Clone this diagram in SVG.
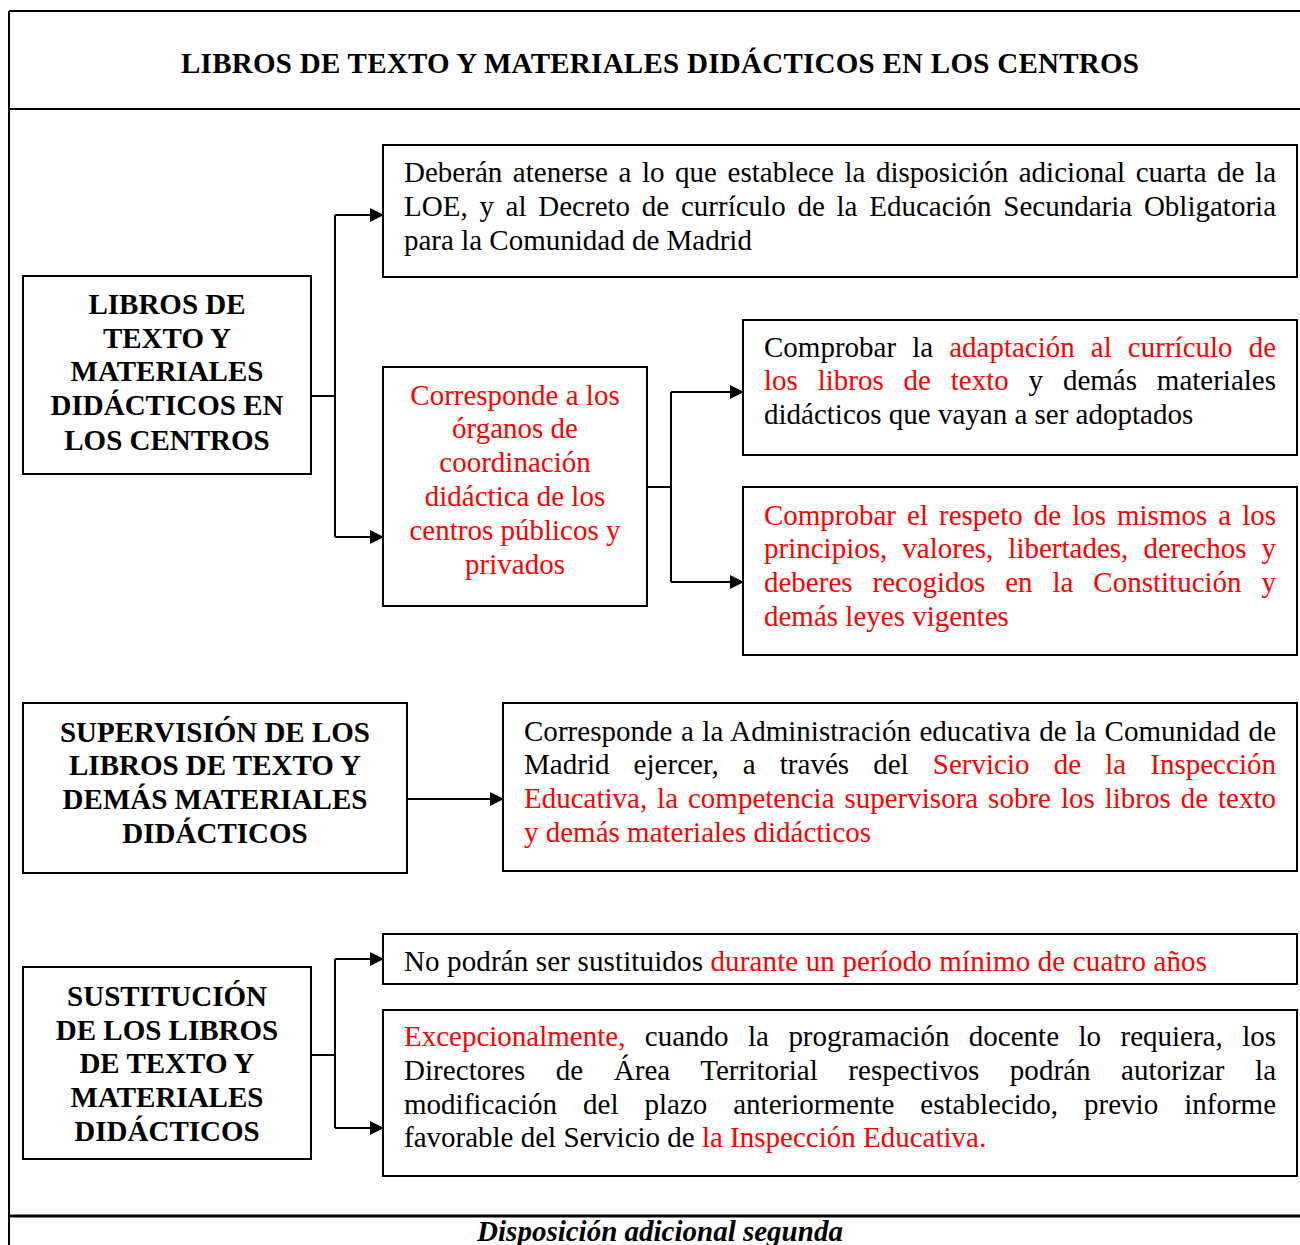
<svg xmlns="http://www.w3.org/2000/svg" width="1300" height="1245" viewBox="0 0 1300 1245">
<style>
.box{fill:#fff;stroke:#000;stroke-width:2}
.frame{fill:none;stroke:#000;stroke-width:2}
.t{font-family:"Liberation Serif","Times New Roman",serif;font-size:29px;fill:#000}
.b{font-family:"Liberation Serif","Times New Roman",serif;font-size:29px;font-weight:bold;fill:#000;text-anchor:middle}
.r{fill:#ff0000}
.c{text-anchor:middle}
.conn{fill:none;stroke:#000;stroke-width:2}
</style>
<defs>
<marker id="arr" markerWidth="14" markerHeight="14" refX="13" refY="7" orient="auto" markerUnits="userSpaceOnUse">
<path d="M0,0 L14,7 L0,14 Z" fill="#000"/>
</marker>
</defs>
<rect width="1300" height="1245" fill="#fff"/>
<g id="frame">
<path class="frame" d="M9,11 H1302 M9,11 V1245 M9,109 H1302"/>
<path d="M9,1216 H1302" stroke="#000" stroke-width="3"/>
<text class="b" x="660" y="73" textLength="958" lengthAdjust="spacing">LIBROS DE TEXTO Y MATERIALES DIDÁCTICOS EN LOS CENTROS</text>
<text class="b" x="660" y="1241" font-style="italic">Disposición adicional segunda</text>
</g>
<g id="connectors">
<path class="conn" d="M311,396 H335 M335,215 V537"/>
<path class="conn" d="M335,215 H383" marker-end="url(#arr)"/>
<path class="conn" d="M335,537 H383" marker-end="url(#arr)"/>
<path class="conn" d="M647,487 H671 M671,392 V582"/>
<path class="conn" d="M671,392 H743" marker-end="url(#arr)"/>
<path class="conn" d="M671,582 H743" marker-end="url(#arr)"/>
<path class="conn" d="M407,799 H503" marker-end="url(#arr)"/>
<path class="conn" d="M311,1055 H335 M335,959 V1128"/>
<path class="conn" d="M335,959 H383" marker-end="url(#arr)"/>
<path class="conn" d="M335,1128 H383" marker-end="url(#arr)"/>
</g>
<g id="n-libros">
<rect class="box" x="23" y="276" width="288" height="198"/>
<text class="b" x="167" y="314">LIBROS DE</text>
<text class="b" x="167" y="348">TEXTO Y</text>
<text class="b" x="167" y="381">MATERIALES</text>
<text class="b" x="167" y="415">DIDÁCTICOS EN</text>
<text class="b" x="167" y="450">LOS CENTROS</text>
</g>
<g id="n-deberan">
<rect class="box" x="383" y="145" width="914" height="132"/>
<text class="t" x="404" y="182" word-spacing="3.3" textLength="872" lengthAdjust="spacing">Deberán atenerse a lo que establece la disposición adicional cuarta de la</text>
<text class="t" x="404" y="216" word-spacing="4.5" textLength="872" lengthAdjust="spacing">LOE, y al Decreto de currículo de la Educación Secundaria Obligatoria</text>
<text class="t" x="404" y="250">para la Comunidad de Madrid</text>
</g>
<g id="n-corresponde">
<rect class="box" x="383" y="367" width="264" height="239"/>
<text class="t c r" x="515" y="405">Corresponde a los</text>
<text class="t c r" x="515" y="438">órganos de</text>
<text class="t c r" x="515" y="472">coordinación</text>
<text class="t c r" x="515" y="506">didáctica de los</text>
<text class="t c r" x="515" y="540">centros públicos y</text>
<text class="t c r" x="515" y="574">privados</text>
</g>
<g id="n-adaptacion">
<rect class="box" x="743" y="320" width="554" height="135"/>
<text class="t" x="764" y="357" word-spacing="8.8" textLength="512" lengthAdjust="spacing">Comprobar la <tspan class="r">adaptación al currículo de</tspan></text>
<text class="t" x="764" y="390" word-spacing="12.6" textLength="512" lengthAdjust="spacing"><tspan class="r">los libros de texto</tspan> y demás materiales</text>
<text class="t" x="764" y="424">didácticos que vayan a ser adoptados</text>
</g>
<g id="n-respeto">
<rect class="box" x="743" y="487" width="554" height="168"/>
<text class="t r" x="764" y="525" word-spacing="3.8" textLength="512" lengthAdjust="spacing">Comprobar el respeto de los mismos a los</text>
<text class="t r" x="764" y="558" word-spacing="7.8" textLength="512" lengthAdjust="spacing">principios, valores, libertades, derechos y</text>
<text class="t r" x="764" y="592" word-spacing="12.7" textLength="512" lengthAdjust="spacing">deberes recogidos en la Constitución y</text>
<text class="t r" x="764" y="626">demás leyes vigentes</text>
</g>
<g id="n-supervision">
<rect class="box" x="23" y="703" width="384" height="170"/>
<text class="b" x="215" y="742">SUPERVISIÓN DE LOS</text>
<text class="b" x="215" y="775">LIBROS DE TEXTO Y</text>
<text class="b" x="215" y="809">DEMÁS MATERIALES</text>
<text class="b" x="215" y="843">DIDÁCTICOS</text>
</g>
<g id="n-administracion">
<rect class="box" x="503" y="703" width="794" height="168"/>
<text class="t" x="524" y="741" word-spacing="1.2" textLength="752" lengthAdjust="spacing">Corresponde a la Administración educativa de la Comunidad de</text>
<text class="t" x="524" y="774" word-spacing="16.8" textLength="752" lengthAdjust="spacing">Madrid ejercer, a través del <tspan class="r">Servicio de la Inspección</tspan></text>
<text class="t r" x="524" y="808" word-spacing="2.7" textLength="752" lengthAdjust="spacing">Educativa, la competencia supervisora sobre los libros de texto</text>
<text class="t r" x="524" y="842">y demás materiales didácticos</text>
</g>
<g id="n-sustitucion">
<rect class="box" x="23" y="967" width="288" height="192"/>
<text class="b" x="167" y="1006">SUSTITUCIÓN</text>
<text class="b" x="167" y="1040">DE LOS LIBROS</text>
<text class="b" x="167" y="1073">DE TEXTO Y</text>
<text class="b" x="167" y="1107">MATERIALES</text>
<text class="b" x="167" y="1141">DIDÁCTICOS</text>
</g>
<g id="n-nopodran">
<rect class="box" x="383" y="934" width="914" height="50"/>
<text class="t" x="404" y="971" textLength="803" lengthAdjust="spacing">No podrán ser sustituidos <tspan class="r">durante un período mínimo de cuatro años</tspan></text>
</g>
<g id="n-excepcionalmente">
<rect class="box" x="383" y="1010" width="914" height="166"/>
<text class="t" x="404" y="1046" word-spacing="12.2" textLength="872" lengthAdjust="spacing"><tspan class="r">Excepcionalmente,</tspan> cuando la programación docente lo requiera, los</text>
<text class="t" x="404" y="1080" word-spacing="23.2" textLength="872" lengthAdjust="spacing">Directores de Área Territorial respectivos podrán autorizar la</text>
<text class="t" x="404" y="1114" word-spacing="18.7" textLength="872" lengthAdjust="spacing">modificación del plazo anteriormente establecido, previo informe</text>
<text class="t" x="404" y="1147">favorable del Servicio de <tspan class="r">la Inspección Educativa.</tspan></text>
</g>
</svg>
